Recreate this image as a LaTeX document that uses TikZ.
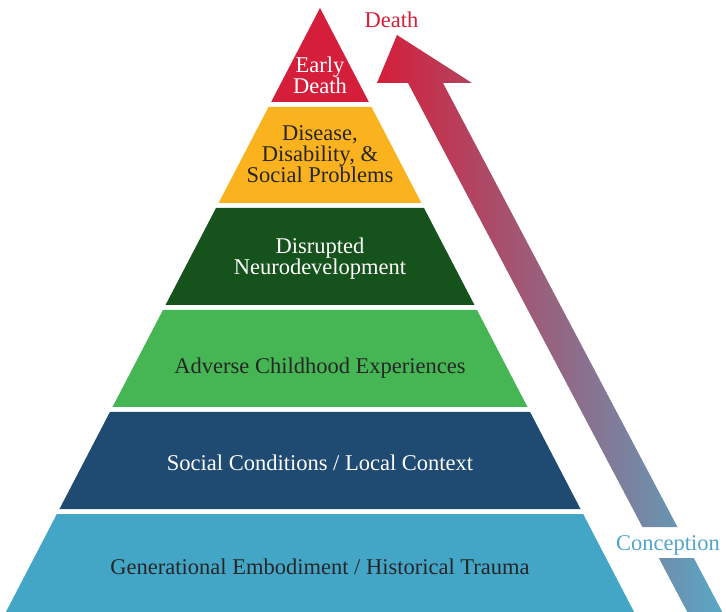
\documentclass[tikz,border=0pt]{standalone}
\usepackage{fontspec}
\setmainfont{Liberation Serif}
\usepackage{tikz}

\definecolor{EarlyRed}{RGB}{213,30,58}
\definecolor{DiseaseOrange}{RGB}{250,178,30}
\definecolor{NeuroGreen}{RGB}{22,82,27}
\definecolor{AceGreen}{RGB}{69,182,83}
\definecolor{SocialBlue}{RGB}{31,74,114}
\definecolor{HistoryBlue}{RGB}{67,166,199}
\definecolor{LabelDark}{RGB}{38,38,38}
\definecolor{ArrowMid}{RGB}{174,112,112}
\definecolor{ArrowTeal}{RGB}{88,168,198}
\definecolor{ConceptionBlue}{RGB}{80,165,200}

\tikzset{
  layertext/.style={align=center, inner sep=0pt, font=\fontsize{22.5}{21}\selectfont},
}

\begin{document}
\begin{tikzpicture}[x=1pt,y=-1pt]
      % Define the pyramid geometry
      \def\CenterX{320}
      \def\ApexY{8}
      \def\Slope{0.52}

      \useasboundingbox (0,0) rectangle (726,612);

      % Draw the layers
      \fill[EarlyRed] (\CenterX,\ApexY) -- ({\CenterX+\Slope*(102-\ApexY)},102) -- ({\CenterX-\Slope*(102-\ApexY)},102) -- cycle;
      \fill[DiseaseOrange] ({\CenterX-\Slope*(107-\ApexY)},107) -- ({\CenterX+\Slope*(107-\ApexY)},107) -- ({\CenterX+\Slope*(203-\ApexY)},203) -- ({\CenterX-\Slope*(203-\ApexY)},203) -- cycle;
      \fill[NeuroGreen] ({\CenterX-\Slope*(208-\ApexY)},208) -- ({\CenterX+\Slope*(208-\ApexY)},208) -- ({\CenterX+\Slope*(305-\ApexY)},305) -- ({\CenterX-\Slope*(305-\ApexY)},305) -- cycle;
      \fill[AceGreen] ({\CenterX-\Slope*(310-\ApexY)},310) -- ({\CenterX+\Slope*(310-\ApexY)},310) -- ({\CenterX+\Slope*(407-\ApexY)},407) -- ({\CenterX-\Slope*(407-\ApexY)},407) -- cycle;
      \fill[SocialBlue] ({\CenterX-\Slope*(412-\ApexY)},412) -- ({\CenterX+\Slope*(412-\ApexY)},412) -- ({\CenterX+\Slope*(509-\ApexY)},509) -- ({\CenterX-\Slope*(509-\ApexY)},509) -- cycle;
      \fill[HistoryBlue] ({\CenterX-\Slope*(514-\ApexY)},514) -- ({\CenterX+\Slope*(514-\ApexY)},514) -- ({\CenterX+\Slope*(612-\ApexY)},612) -- ({\CenterX-\Slope*(612-\ApexY)},612) -- cycle;

      % Label the layers
      \node[layertext, text=white] (early) at (\CenterX,75.5) {Early\\Death};
      \node[layertext, text=LabelDark] (disease) at (\CenterX,154.5) {Disease,\\Disability, \&\\Social Problems};
      \node[layertext, text=white] (neuro) at (\CenterX,259) {Disrupted\\Neurodevelopment};
      \node[layertext, text=LabelDark] (ace) at (\CenterX,368) {Adverse Childhood Experiences};
      \node[layertext, text=white] (social) at (\CenterX,463) {Social Conditions / Local Context};
      \node[layertext, text=LabelDark] (history) at (\CenterX,567) {Generational Embodiment / Historical Trauma};

      % Draw the life course arrow (broken by the conception label)
      \def\ShaftL{408}
      \def\ShaftR{443}
      \def\Lean{0.528}
      \shade[left color=EarlyRed, middle color=ArrowMid, right color=ArrowTeal]
        (397,35) -- (472,83) -- (\ShaftR,83) -- ({\ShaftR+\Lean*(527-83)},527)
        -- ({\ShaftL+\Lean*(527-83)},527) -- (\ShaftL,83) -- (377,83) -- cycle
        ({\ShaftL+\Lean*(558-83)},558) -- ({\ShaftR+\Lean*(558-83)},558)
        -- ({\ShaftR+\Lean*(612-83)},612) -- ({\ShaftL+\Lean*(612-83)},612) -- cycle;

      % Label the ends of the arrow
      \node[layertext, text=EarlyRed] (death) at (391.5,20) {Death};
      \node[layertext, text=ConceptionBlue] (conception) at (668,545) {Conception};
    \end{tikzpicture}
\end{document}
